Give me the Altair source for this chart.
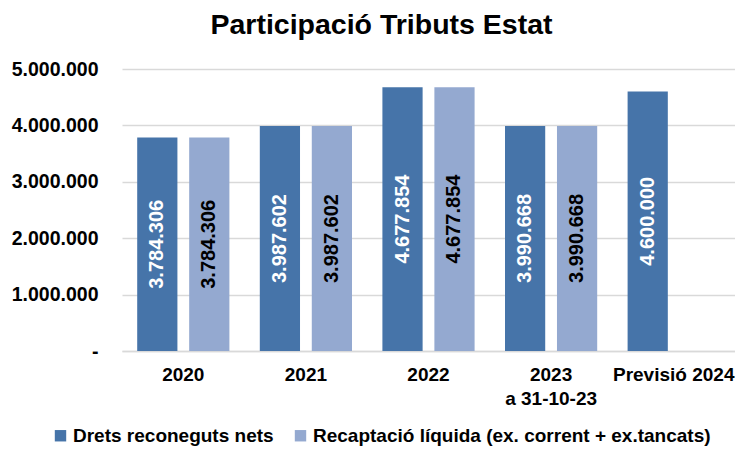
import altair as alt
import pandas as pd

categories = ["2020", "2021", "2022", "2023\na 31-10-23", "Previsió 2024"]
series_names = ["Drets reconeguts nets", "Recaptació líquida (ex. corrent + ex.tancats)"]
drets = [3784306, 3987602, 4677854, 3990668, 4600000]
recaptacio = [3784306, 3987602, 4677854, 3990668, None]
y_ticks = [0, 1000000, 2000000, 3000000, 4000000, 5000000]
colors = ["#4674A9", "#94A9D0"]

rows = []
for cat, d, r in zip(categories, drets, recaptacio):
    for s, v in zip(series_names, [d, r]):
        if v is None:
            continue
        rows.append({"cat": cat, "serie": s, "value": v,
                     "label": f"{v:,}".replace(",", ".")})
df = pd.DataFrame(rows)

FONT = "Liberation Sans"

x_enc = alt.X("cat:N", sort=categories,
              scale=alt.Scale(paddingInner=0.248, paddingOuter=0.124),
              axis=alt.Axis(title=None, labelAngle=0,
                            labelExpr="split(datum.label, '\\n')",
                            labelFont=FONT, labelFontWeight="bold", labelFontSize=19,
                            labelColor="black", labelPadding=14, labelLineHeight=24,
                            ticks=False, domainColor="#D9D9D9", domainWidth=1.5,
                            labelBaseline="top"))
xoff_enc = alt.XOffset("serie:N", sort=series_names,
                       scale=alt.Scale(domain=series_names, paddingInner=0.2264, paddingOuter=0))

base = alt.Chart(df)

bars = base.mark_bar().encode(
    x=x_enc,
    xOffset=xoff_enc,
    y=alt.Y("value:Q", scale=alt.Scale(domain=[0, 5000000], nice=False),
            axis=alt.Axis(title=None, values=y_ticks,
                          labelExpr="datum.value == 0 ? '-' : replace(replace(format(datum.value, ',.0f'), ',', '.'), ',', '.')",
                          labelFont=FONT, labelFontWeight="bold", labelFontSize=19.5,
                          labelColor="black", labelPadding=24, ticks=False, domain=False,
                          gridColor="#D9D9D9", gridWidth=1.5)),
    color=alt.Color("serie:N", sort=series_names,
                    scale=alt.Scale(domain=series_names, range=colors),
                    legend=alt.Legend(title=None, orient="none", legendX=-71, legendY=357,
                                      direction="horizontal", symbolType="square",
                                      symbolSize=130, symbolStrokeWidth=0,
                                      labelFont=FONT, labelFontWeight="bold",
                                      labelFontSize=19, labelColor="black",
                                      labelLimit=600, columnPadding=17, labelOffset=3)),
)

texts = base.mark_text(angle=270, align="center", baseline="middle",
                       font=FONT, fontWeight="bold", fontSize=20).transform_calculate(
    mid="datum.value / 2"
).encode(
    x=alt.X("cat:N", sort=categories),
    xOffset=alt.XOffset("serie:N", sort=series_names),
    y=alt.Y("mid:Q"),
    text="label:N",
    color=alt.condition(alt.datum.serie == series_names[0], alt.value("white"), alt.value("black")),
)

chart = alt.layer(bars, texts).properties(
    width=613, height=282,
    title=alt.Title("Participació Tributs Estat", font=FONT, fontSize=28.5, fontWeight="bold",
                    color="black", anchor="middle", dx=-47, offset=20),
    autosize=alt.AutoSizeParams(type="none"),
    padding={"left": 114, "top": 61, "right": 0, "bottom": 95},
).configure_view(stroke=None)

chart.save("out.html", embed_options={"renderer": "svg", "actions": False})
